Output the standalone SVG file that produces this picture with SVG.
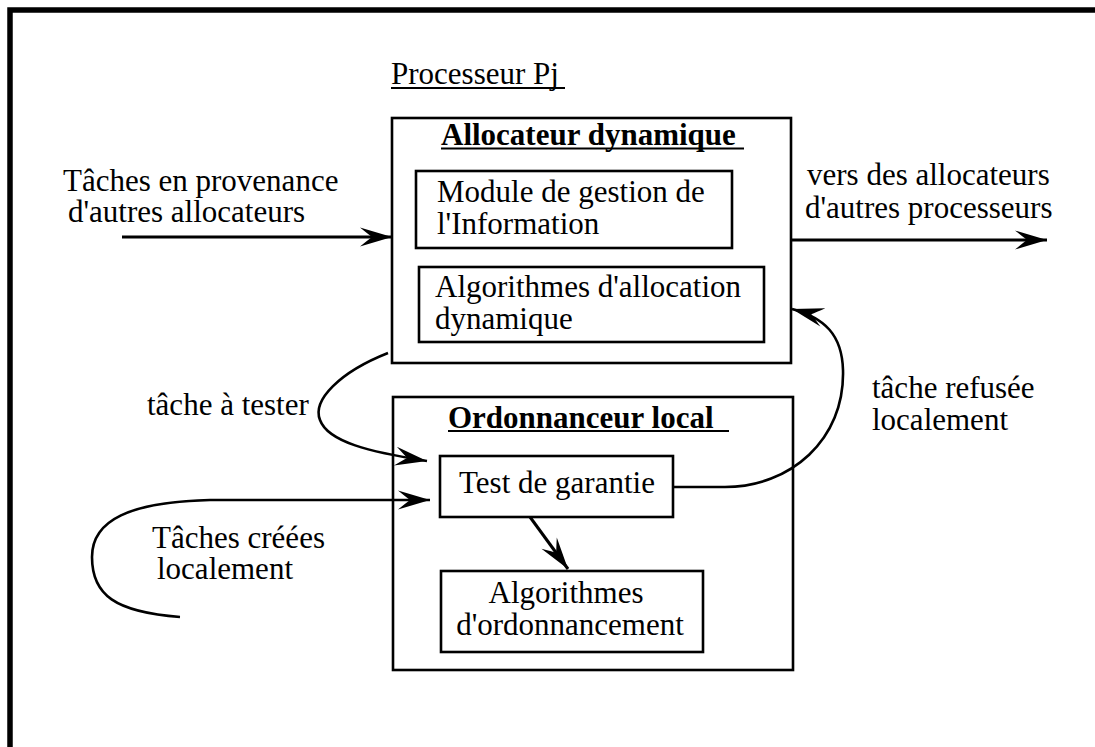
<svg xmlns="http://www.w3.org/2000/svg" width="1095" height="747" viewBox="0 0 1095 747">
  <style>
    text { font-family: "Liberation Serif", "Times New Roman", serif; font-size: 31px; fill: #000; }
    .title { font-weight: bold; }
    .box { fill: none; stroke: #000; stroke-width: 2.6; }
    .ul { stroke: #000; stroke-width: 1.8; }
    .frame { fill: none; stroke: #000; stroke-width: 5.5; }
    .arrow { fill: none; stroke: #000; stroke-width: 3; marker-end: url(#barb); }
    .curve { fill: none; stroke: #000; stroke-width: 2.6; marker-end: url(#barb); }
  </style>
  <defs>
    <!-- swept-back barbed arrowhead, tip at the path end -->
    <marker id="barb" markerUnits="userSpaceOnUse" markerWidth="40" markerHeight="24"
            viewBox="-34 -12 36 24" refX="0" refY="0" orient="auto" overflow="visible">
      <path d="M0,0 L-32,-9.5 Q-24,-3 -20,0 Q-24,3 -32,9.5 Z" fill="#000"/>
    </marker>
  </defs>

  <rect width="1095" height="747" fill="#fff"/>

  <!-- outer frame (top and left edges) -->
  <path class="frame" d="M10,747 L10,10 L1095,10"/>

  <g id="processor-label">
    <text x="391" y="84">Processeur Pj</text>
    <line class="ul" x1="391" y1="88" x2="565" y2="88"/>
  </g>

  <g id="allocator">
    <rect class="box" x="392" y="118" width="399" height="245"/>
    <text class="title" x="441" y="145">Allocateur dynamique</text>
    <line class="ul" x1="441" y1="148.5" x2="744" y2="148.5" stroke-width="2.2"/>
  </g>

  <g id="info-module">
    <rect class="box" x="416" y="171" width="316" height="77"/>
    <text x="437" y="201.5">Module de gestion de</text>
    <text x="437" y="234">l'Information</text>
  </g>

  <g id="alloc-algorithms">
    <rect class="box" x="419" y="267" width="345" height="75"/>
    <text x="435" y="297">Algorithmes d'allocation</text>
    <text x="435" y="328.5">dynamique</text>
  </g>

  <g id="scheduler">
    <rect class="box" x="393" y="397" width="400" height="273"/>
    <text class="title" x="448" y="427.5">Ordonnanceur local</text>
    <line class="ul" x1="448" y1="431" x2="729" y2="431" stroke-width="2.2"/>
  </g>

  <g id="guarantee-test">
    <rect class="box" x="440" y="456" width="233" height="61"/>
    <text x="557" y="493" text-anchor="middle">Test de garantie</text>
  </g>

  <g id="sched-algorithms">
    <rect class="box" x="441" y="571" width="262" height="81"/>
    <text x="566" y="603" text-anchor="middle">Algorithmes</text>
    <text x="570" y="635" text-anchor="middle">d'ordonnancement</text>
  </g>

  <g id="labels">
    <text x="63" y="191">Tâches en provenance</text>
    <text x="68" y="222">d'autres allocateurs</text>
    <text x="807" y="185">vers des allocateurs</text>
    <text x="805" y="218">d'autres processeurs</text>
    <text x="147" y="415">tâche à tester</text>
    <text x="872" y="398">tâche refusée</text>
    <text x="872" y="430">localement</text>
    <text x="152" y="548">Tâches créées</text>
    <text x="157" y="579">localement</text>
  </g>

  <g id="connectors">
    <path class="arrow" d="M122,237 L392,237"/>
    <path class="arrow" d="M791,240 L1047,240"/>
    <path class="curve" d="M388,353 C340,372 312,400 320,420 C328,442 370,452 427,461"/>
    <path class="curve" d="M180,617 C115,612 92,595 92,557 C92,520 130,502 210,500 L430,500"/>
    <path class="curve" d="M673,487 L725,487 C790,487 845,440 843,370 C842,335 825,318 792,309"/>
    <path class="arrow" d="M530,517 L568,569"/>
  </g>
</svg>
